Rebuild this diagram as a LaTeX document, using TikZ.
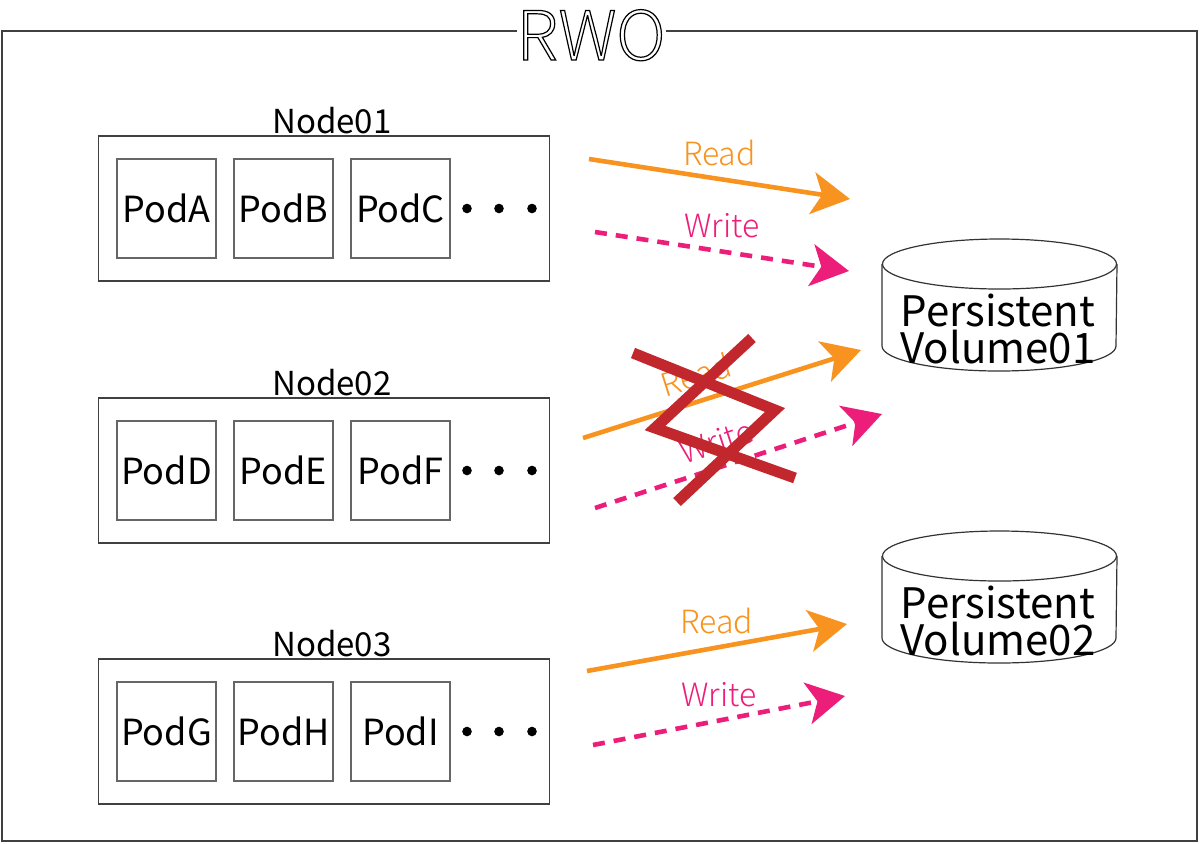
\documentclass[tikz,border=0pt]{standalone}
\usepackage{fontspec}
\setmainfont{Noto Sans CJK JP}
\newfontfamily\thinfont{Noto Sans CJK JP Light}
\usepackage{tikz}
\usetikzlibrary{arrows.meta}

\definecolor{ReadOrange}{HTML}{F7931E}
\definecolor{WritePink}{HTML}{EC1E79}
\definecolor{CrossRed}{HTML}{C1272D}

\newcommand{\outlined}[1]{\special{pdf:literal direct 1 Tr 0.6 w}#1\special{pdf:literal direct 0 Tr}}

\tikzset{
    hostbox/.style={draw=black!75, line width=0.6pt, minimum width=225.5pt, minimum height=72.5pt, inner sep=0pt},
    hostlabel/.style={font=\fontsize{16.5}{17}\selectfont, inner sep=0pt},
    podbox/.style={draw=black!60, line width=0.6pt, minimum width=49.5pt, minimum height=49.5pt, inner sep=0pt, font=\fontsize{18}{20}\selectfont},
    pvlabel/.style={align=center, inner sep=0pt, font=\fontsize{21}{18.5}\selectfont},
    pvline/.style={draw=black!80, line width=0.6pt},
    readarrow/.style={ReadOrange, line width=2.3pt, -{Stealth[length=19pt, width=21pt, inset=5pt]}},
    writearrow/.style={WritePink, line width=2.3pt, dash pattern=on 6pt off 4.5pt, -{Stealth[length=19pt, width=21pt, inset=5pt]}},
    arrowlabel/.style={font=\thinfont\fontsize{16}{16}\selectfont, inner sep=0.5pt},
    crossline/.style={CrossRed, line width=5.5pt}
}

\begin{document}
\begin{tikzpicture}[x=0.5pt, y=-0.5pt]
    \useasboundingbox (0,0) rectangle (1200,843);

    % frame and title
    \draw[black!75, line width=1pt] (2,31) rectangle (1197,841);
    \node[fill=white, inner xsep=0pt, inner ysep=2pt, anchor=base, font=\thinfont\fontsize{34}{34}\selectfont] (title) at (591,60) {\outlined{RWO}};

    % nodes with their pods
    \foreach \row/\y/\a/\b/\c in {1/208.5/A/B/C, 2/470.5/D/E/F, 3/731.5/G/H/I} {
        \node[hostbox] (node\row) at (324,\y) {};
        \node[hostlabel, anchor=base] (label\row) at (332,\y-75.5) {Node0\row};
        \node[podbox] (pod\a) at (166.5,\y) {Pod\a};
        \node[podbox] (pod\b) at (283.5,\y) {Pod\b};
        \node[podbox] (pod\c) at (400.5,\y) {Pod\c};
        \foreach \x in {467,499,532}
            \fill (\x,\y) circle (2.4pt);
    }

    % persistent volumes
    \foreach \n/\top in {01/264, 02/556} {
        \draw[pvline] (999.5,\top) ellipse [x radius=58.5pt, y radius=12.5pt];
        \draw[pvline] (882,\top) -- (882,\top+82) arc[start angle=180, end angle=360, x radius=58.5pt, y radius=12.5pt] -- (1117,\top);
        \node[pvlabel] (pv\n) at (998,\top+64.5) {Persistent\\Volume\n};
    }

    % read / write
    \coordinate (rd1s) at (589,159);
    \coordinate (rd1e) at (850,199);
    \coordinate (wr1s) at (595,232);
    \coordinate (wr1e) at (849,271);
    \coordinate (rd2s) at (583,438);
    \coordinate (rd2e) at (861,350);
    \coordinate (wr2s) at (595,508);
    \coordinate (wr2e) at (882,414);
    \coordinate (rd3s) at (587,671);
    \coordinate (rd3e) at (847,624);
    \coordinate (wr3s) at (593,745);
    \coordinate (wr3e) at (845,696);

    \draw[readarrow] (rd1s) -- (rd1e) node[midway, above=5pt, arrowlabel] {Read};
    \draw[writearrow] (wr1s) -- (wr1e) node[midway, above=5pt, arrowlabel] {Write};
    \draw[readarrow] (rd2s) -- (rd2e) node[pos=0.435, above=5pt, sloped, arrowlabel] {Read};
    \draw[writearrow] (wr2s) -- (wr2e) node[pos=0.45, above=5pt, sloped, arrowlabel] {Write};
    \draw[readarrow] (rd3s) -- (rd3e) node[midway, above=5pt, arrowlabel] {Read};
    \draw[writearrow] (wr3s) -- (wr3e) node[midway, above=5pt, arrowlabel] {Write};

    % the cross over node02
    \draw[crossline] (633,353) -- (775,410) -- (677,502);
    \draw[crossline] (752,338) -- (655,428) -- (795,478);
\end{tikzpicture}
\end{document}
